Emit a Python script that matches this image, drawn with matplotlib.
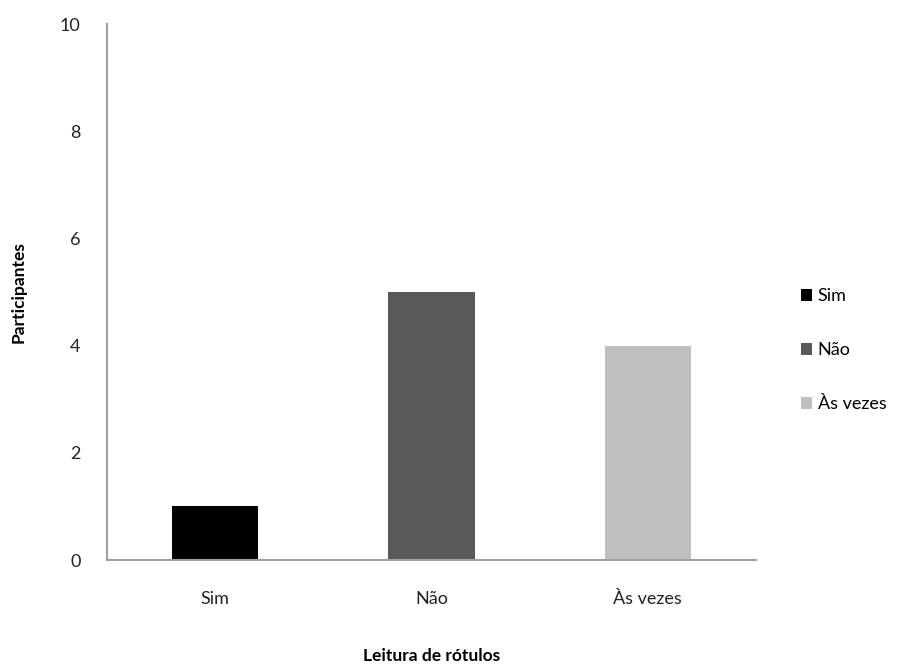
import matplotlib.pyplot as plt
from matplotlib.patches import Patch

# Dados
categorias = ['Sim', 'Não', 'Às vezes']
participantes = [1, 5, 4]
cores = ['#000000', '#595959', '#bfbfbf']
yticks = [0, 2, 4, 6, 8, 10]

plt.rcParams['font.family'] = ['Lato', 'DejaVu Sans']

fig = plt.figure(figsize=(9.12, 6.67), dpi=100)
ax = fig.add_axes([0.1173, 0.1604, 0.7117, 0.8036])

ax.bar(categorias, participantes, width=0.4, color=cores)

ax.set_ylim(0, 10)
ax.set_xlim(-0.5, 2.5)
ax.set_yticks(yticks)
ax.tick_params(axis='both', length=0, labelsize=13, colors='#222222')
ax.tick_params(axis='x', pad=22)
ax.tick_params(axis='y', pad=19)

for lado in ['top', 'right']:
    ax.spines[lado].set_visible(False)
for lado in ['left', 'bottom']:
    ax.spines[lado].set_color('#a0a0a0')
    ax.spines[lado].set_linewidth(1.5)

ax.set_ylabel('Participantes', fontsize=12.5, fontweight='bold', labelpad=24)
ax.set_xlabel('Leitura de rótulos', fontsize=12.5, fontweight='bold', labelpad=30)

# Legenda
handles = [Patch(facecolor=c, label=l) for c, l in zip(cores, categorias)]
fig.legend(handles=handles, loc='center left', bbox_to_anchor=(0.86, 0.475),
           frameon=False, fontsize=13, handlelength=0.65, handleheight=0.65,
           handletextpad=0.3, labelspacing=2.1)

plt.savefig('out.png')
